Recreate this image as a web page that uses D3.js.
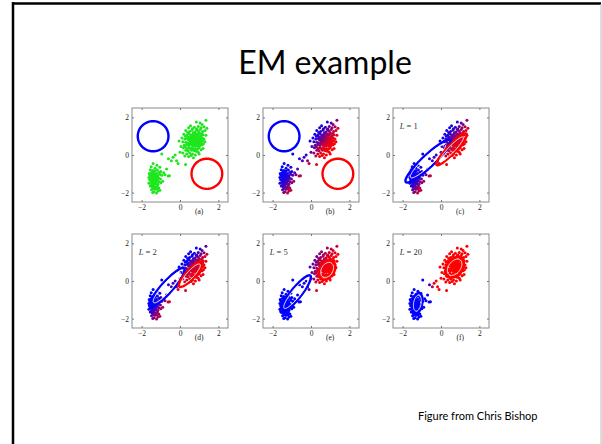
<!DOCTYPE html>
<html>
<head>
<meta charset="utf-8">
<script src="https://cdn.jsdelivr.net/npm/d3@7"></script>
<style>
  body { margin: 0; background: #fff; }
  .tick text { font-family: "Liberation Serif", serif; font-size: 7.5px; fill: #222; }
  .tick line { stroke: #777; }
</style>
</head>
<body>
<svg id="slide" width="602" height="444"></svg>
<script>
// standardized Old Faithful points (eruption, waiting)
var upperCluster = [
  [1.35,1.85],[1.05,1.70],[0.85,1.75],[1.15,1.62],
  [0.55,1.55],[0.75,1.48],[0.95,1.52],[1.10,1.45],[1.25,1.50],[0.65,1.40],[1.40,1.42],[0.45,1.45],[0.88,1.38],
  [0.30,1.30],[0.50,1.25],[0.62,1.32],[0.78,1.22],[0.92,1.28],[1.05,1.35],[1.18,1.25],[1.30,1.30],[0.70,1.18],[0.85,1.35],[1.00,1.20],[0.40,1.20],[1.12,1.15],
  [0.20,1.10],[0.35,1.05],[0.48,1.12],[0.58,1.05],[0.66,1.10],[0.75,1.02],[0.82,1.12],[0.90,1.05],[0.98,1.10],[1.08,1.02],[1.20,1.08],[1.35,1.05],[0.55,0.98],[0.72,0.95],[0.88,0.98],[1.02,0.95],[1.15,0.92],[0.42,0.95],[0.28,1.00],
  [0.10,0.90],[0.25,0.85],[0.38,0.88],[0.50,0.82],[0.60,0.90],[0.68,0.85],[0.78,0.88],[0.86,0.80],[0.95,0.85],[1.05,0.82],[1.12,0.88],[1.25,0.85],[0.45,0.78],[0.65,0.75],[0.80,0.72],[0.92,0.76],[1.00,0.70],[1.18,0.75],[0.55,0.70],[0.72,0.80],[1.30,0.70],
  [-0.05,0.75],[0.15,0.70],[0.30,0.68],[0.40,0.62],[0.50,0.58],[0.58,0.65],[0.66,0.60],[0.75,0.65],[0.84,0.58],[0.90,0.66],[0.98,0.60],[1.08,0.62],[1.15,0.55],[0.62,0.52],[0.70,0.50],[0.80,0.48],[0.88,0.52],[0.95,0.45],[1.05,0.50],[0.35,0.55],[0.22,0.52],[1.22,0.60],[0.46,0.50],[0.72,0.70],
  [0.05,0.45],[0.18,0.38],[0.28,0.42],[0.38,0.35],[0.48,0.40],[0.55,0.32],[0.65,0.38],[0.72,0.30],[0.80,0.35],[0.90,0.30],[1.00,0.38],[1.10,0.28],[0.60,0.25],[0.75,0.22],[0.85,0.20],[0.42,0.22],[0.95,0.15],[0.30,0.25],[1.20,0.35],
  [0.00,0.15],[0.15,0.10],[0.35,0.05],[0.50,0.10],[0.65,0.05],[0.80,0.00],[0.45,-0.08],[0.70,-0.15],[0.25,-0.05],[1.00,0.05],[0.58,-0.02],
  [0.60,0.95],[0.68,1.00],[0.78,0.92],[0.85,0.90],[0.92,0.92],[0.64,0.82],[0.74,0.76],[0.82,0.84],[0.96,0.78],[1.02,0.86],
  [0.70,0.62],[0.86,0.66],[0.58,0.78],[0.54,0.88],[0.94,0.64],[1.10,0.72],[0.76,0.56],[0.52,0.66],[0.88,1.10],[0.66,0.92]
];
var lowerCluster = [
  [-1.40,-0.45],[-1.20,-0.55],[-1.50,-0.62],[-1.05,-0.65],[-1.30,-0.70],
  [-1.55,-0.78],[-1.42,-0.82],[-1.30,-0.85],[-1.18,-0.80],[-1.00,-0.88],[-1.48,-0.92],[-1.35,-0.95],[-1.22,-0.98],[-1.10,-0.92],[-0.85,-0.95],[-1.60,-0.98],
  [-1.58,-1.05],[-1.45,-1.02],[-1.38,-1.08],[-1.28,-1.05],[-1.15,-1.10],[-1.05,-1.02],[-0.95,-1.08],[-1.52,-1.15],[-1.40,-1.18],[-1.32,-1.15],[-1.22,-1.20],[-1.12,-1.22],[-1.48,-1.25],[-1.35,-1.28],[-1.25,-1.25],[-0.78,-1.05],[-0.62,-1.12],[-1.62,-1.20],[-1.02,-1.28],
  [-1.58,-1.32],[-1.45,-1.35],[-1.38,-1.40],[-1.30,-1.35],[-1.20,-1.38],[-1.10,-1.42],[-1.52,-1.45],[-1.42,-1.50],[-1.33,-1.48],[-1.25,-1.52],[-1.15,-1.55],[-1.48,-1.58],[-1.36,-1.60],[-1.00,-1.48],[-0.90,-1.40],[-1.62,-1.50],
  [-1.55,-1.65],[-1.45,-1.70],[-1.35,-1.68],[-1.25,-1.72],[-1.18,-1.65],[-1.40,-1.78],[-1.30,-1.82],[-1.20,-1.80],[-1.10,-1.75],[-1.48,-1.85],[-1.05,-1.88],
  [-1.35,-1.95],[-1.22,-2.02],[-1.15,-1.92],[-1.42,-2.00],
  [-1.40,-1.10],[-1.30,-1.22],[-1.18,-1.32],[-1.45,-1.40],[-1.28,-1.42],[-1.38,-1.25],[-1.50,-1.08],[-1.20,-1.12],[-1.32,-1.55],[-1.42,-1.62]
];
var bridgePoints = [
  [-0.95,0.05],[-0.36,-0.12],[-0.18,-0.30],[-0.10,-0.45],[0.29,-0.50],[-0.55,-1.10],[-0.45,-0.30],[-0.25,0.00],[-0.70,-0.75],[-0.60,-0.20]
];

var panelLabels = ["(a)", "(b)", "(c)", "(d)", "(e)", "(f)"];
var iterLabels = ["", "", "1", "2", "5", "20"];
var tickValues = [-2, 0, 2];

// drawn Gaussians per panel: [cx, cy, semi-major, semi-minor, angle deg]
var blueEllipses = [
  [-1.4, 1.0, 0.8, 0.8, 0], [-1.4, 1.0, 0.8, 0.8, 0],
  [-0.68, -0.33, 1.60, 0.32, 44], [-0.68, -0.35, 1.36, 0.30, 49],
  [-0.80, -0.69, 1.24, 0.28, 52], [-1.23, -1.18, 0.55, 0.25, 80]
];
var redEllipses = [
  [1.4, -1.0, 0.8, 0.8, 0], [1.4, -1.0, 0.8, 0.8, 0],
  [0.55, 0.30, 1.14, 0.22, 47], [0.57, 0.37, 0.90, 0.24, 48],
  [0.84, 0.59, 0.55, 0.38, 60], [0.71, 0.73, 0.62, 0.40, 55]
];
// Gaussians the point colours (responsibilities) come from
var blueResp = [
  null, [-1.4, 1.0, 0.8, 0.8, 0], [-1.4, 1.0, 0.8, 0.8, 0],
  [-0.68, -0.33, 1.60, 0.32, 44], [-0.85, -0.75, 1.30, 0.30, 52], [-1.23, -1.18, 0.55, 0.25, 80]
];
var redResp = [
  null, [1.4, -1.0, 0.8, 0.8, 0], [1.4, -1.0, 0.8, 0.8, 0],
  [0.55, 0.30, 1.14, 0.22, 47], [0.80, 0.55, 0.65, 0.35, 55], [0.71, 0.73, 0.62, 0.40, 55]
];

var points = lowerCluster.concat(bridgePoints, upperCluster);

var svg = d3.select("#slide");

// slide border
svg.append("line").attr("x1", 12).attr("x2", 601).attr("y1", 3.5).attr("y2", 3.5)
  .attr("stroke", "#000").attr("stroke-width", 2.5);
svg.append("line").attr("x1", 13).attr("x2", 13).attr("y1", 2).attr("y2", 444)
  .attr("stroke", "#000").attr("stroke-width", 2.5);
svg.append("line").attr("x1", 601).attr("x2", 601).attr("y1", 4).attr("y2", 444)
  .attr("stroke", "#bbb").attr("stroke-width", 1);

svg.append("text")
  .attr("x", 325).attr("y", 74)
  .attr("text-anchor", "middle")
  .style("font-family", "Lato, 'Open Sans', sans-serif")
  .style("font-size", "32px")
  .style("fill", "#000")
  .text("EM example");

svg.append("text")
  .attr("x", 418).attr("y", 420)
  .style("font-family", "Lato, 'Open Sans', sans-serif")
  .style("font-size", "11px")
  .style("fill", "#000")
  .text("Figure from Chris Bishop");

var panelLeft = [132, 263, 393],
  panelTop = [108, 234],
  pw = 96,
  ph = 94;

var density = function(p, g) {
  var t = g[4] * Math.PI / 180,
    dx = p[0] - g[0], dy = p[1] - g[1],
    u = (dx * Math.cos(t) + dy * Math.sin(t)) / g[2],
    v = (-dx * Math.sin(t) + dy * Math.cos(t)) / g[3];
  return Math.exp(-0.5 * (u * u + v * v)) / (g[2] * g[3]);
};

var blueToRed = d3.interpolateRgb("rgb(0,0,255)", "rgb(255,0,0)");

panelLabels.forEach(function(label, i) {
  var col = i % 3, row = Math.floor(i / 3);
  var g = svg.append("g")
    .attr("transform", "translate(" + panelLeft[col] + "," + panelTop[row] + ")");

  var x = d3.scaleLinear().domain([-2.5, 2.5]).range([0, pw]),
    y = d3.scaleLinear().domain([-2.5, 2.5]).range([ph, 0]);

  g.append("rect")
    .attr("width", pw).attr("height", ph)
    .attr("fill", "#fff").attr("stroke", "#8a8a8a").attr("stroke-width", 1);

  g.append("g").attr("transform", "translate(0," + ph + ")")
    .call(d3.axisBottom(x).tickValues(tickValues).tickSize(-2).tickPadding(3).tickFormat(d3.format("d")));
  g.append("g")
    .call(d3.axisLeft(y).tickValues(tickValues).tickSize(-2).tickPadding(3).tickFormat(d3.format("d")));
  g.append("g").call(d3.axisTop(x).tickValues(tickValues).tickSize(-2).tickFormat(""));
  g.append("g").attr("transform", "translate(" + pw + ",0)")
    .call(d3.axisRight(y).tickValues(tickValues).tickSize(-2).tickFormat(""));
  g.selectAll(".domain").remove();

  g.append("text")
    .attr("x", x(1.0)).attr("y", ph + 12)
    .attr("text-anchor", "middle")
    .style("font-family", "'Liberation Serif', serif")
    .style("font-size", "7.5px")
    .style("fill", "#222")
    .text(label);

  if (iterLabels[i]) {
    var lt = g.append("text")
      .attr("x", x(-2.15)).attr("y", y(1.4))
      .style("font-family", "'Liberation Serif', serif")
      .style("font-size", "8.5px")
      .style("fill", "#333");
    lt.append("tspan").style("font-style", "italic").text("L");
    lt.append("tspan").text(" = " + iterLabels[i]);
  }

  g.append("g").selectAll("circle")
    .data(points)
    .enter().append("circle")
    .attr("cx", function(d) { return x(d[0]); })
    .attr("cy", function(d) { return y(d[1]); })
    .attr("r", 1.5)
    .attr("fill", function(d) {
      if (!blueResp[i]) return "rgb(30,230,30)";
      var b = density(d, blueResp[i]), r = density(d, redResp[i]);
      return blueToRed(r / (r + b));
    });

  var ellipsePath = function(e, s) {
    var t = e[4] * Math.PI / 180;
    return d3.line().curve(d3.curveLinearClosed)(d3.range(72).map(function(k) {
      var a = k / 72 * 2 * Math.PI,
        u = s * e[2] * Math.cos(a), v = s * e[3] * Math.sin(a);
      return [x(e[0] + u * Math.cos(t) - v * Math.sin(t)), y(e[1] + u * Math.sin(t) + v * Math.cos(t))];
    }));
  };

  [[blueEllipses[i], "rgb(0,0,255)"], [redEllipses[i], "rgb(255,0,0)"]].forEach(function(pair) {
    g.append("path").attr("d", ellipsePath(pair[0], 1))
      .attr("fill", "none").attr("stroke", pair[1]).attr("stroke-width", 2.4);
    if (i >= 2) {
      g.append("path").attr("d", ellipsePath(pair[0], 0.78))
        .attr("fill", "none").attr("stroke", "#fff").attr("stroke-width", 0.9);
    }
  });
});
</script>
</body>
</html>
